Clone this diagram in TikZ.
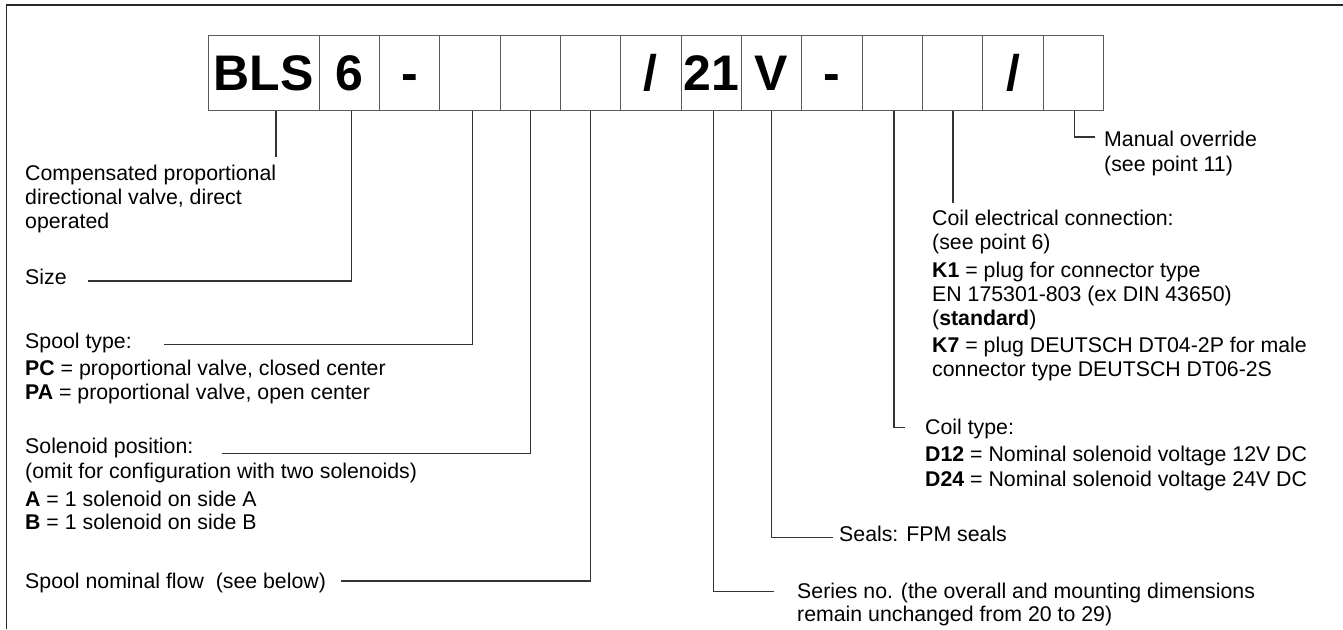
\documentclass[tikz,border=0pt]{standalone}
\usepackage{fontspec}
\setmainfont{Liberation Sans}
\begin{document}
\begin{tikzpicture}[x=1pt,y=-1pt,
  cell/.style={draw=black!65, line width=1pt, inner sep=0pt, minimum height=75pt,
    text height=35.8pt, text depth=0pt, font=\fontsize{50}{50}\selectfont\bfseries},
  lbl/.style={anchor=base west, inner sep=0pt, font=\fontsize{21.3}{24}\selectfont},
  leader/.style={draw=black!80, line width=1.1pt},
  frameline/.style={draw=black!85, line width=1.6pt}]
\useasboundingbox (0,0) rectangle (1343,629);
% frame
\coordinate (fTR) at (1343,5);
\coordinate (fTL) at (6.5,5);
\coordinate (fBL) at (6.5,629);
\draw[frameline] (fTR) -- (fTL) -- (fBL);
% code boxes
\node[cell, minimum width=111pt] (bls) at (263.5,72.5) {BLS};
\foreach \t [count=\i] in {6,-,{},{},{},/,21,V,-,{},{},/,{}}
  \node[cell, minimum width=60.35pt] (c\i) at ({319+60.35*(\i-0.5)},72.5) {\t};
% left descriptions
\node[lbl] (d1a) at (25,180) {Compensated proportional};
\node[lbl] (d1b) at (25,204) {directional valve, direct};
\node[lbl] (d1c) at (25,228) {operated};
\node[lbl] (d2) at (25,284) {Size};
\node[lbl] (d3) at (25,348) {Spool type:};
\node[lbl] (d3a) at (25,375) {\textbf{PC} = proportional valve, closed center};
\node[lbl] (d3b) at (25,399) {\textbf{PA} = proportional valve, open center};
\node[lbl] (d4) at (25,453) {Solenoid position:};
\node[lbl] (d4a) at (25,478) {(omit for configuration with two solenoids)};
\node[lbl] (d4b) at (25,506) {\textbf{A} = 1 solenoid on side A};
\node[lbl] (d4c) at (25,529) {\textbf{B} = 1 solenoid on side B};
\node[lbl] (d5) at (25,588) {Spool nominal flow~ (see below)};
% right descriptions
\node[lbl] (m1) at (1104,146) {Manual override};
\node[lbl] (m2) at (1104,171.5) {(see point 11)};
\node[lbl] (e1) at (932,225) {Coil electrical connection:};
\node[lbl] (e2) at (932,249.3) {(see point 6)};
\node[lbl] (e3) at (932,277.7) {\textbf{K1} = plug for connector type};
\node[lbl] (e4) at (932,301.7) {EN 175301-803 (ex DIN 43650)};
\node[lbl] (e5) at (932,325) {(\textbf{standard})};
\node[lbl] (e6) at (932,352.7) {\textbf{K7} = plug DEUTSCH DT04-2P for male};
\node[lbl] (e7) at (932,376.7) {connector type DEUTSCH DT06-2S};
\node[lbl] (t1) at (925,434.3) {Coil type:};
\node[lbl] (t2) at (925,461.7) {\textbf{D12} = Nominal solenoid voltage 12V DC};
\node[lbl] (t3) at (925,486) {\textbf{D24} = Nominal solenoid voltage 24V DC};
\node[lbl] (s1) at (839,541) {Seals: FPM seals};
\node[lbl] (n1) at (797,598.7) {Series no. (the overall and mounting dimensions};
\node[lbl] (n2) at (797,621) {remain unchanged from 20 to 29)};
% leader lines
\coordinate (kA) at (276,157);
\draw[leader] (bls.south -| kA) -- (kA);
\coordinate (kB) at (351.3,281); \coordinate (eB) at (88,281);
\draw[leader] (c1.south -| kB) -- (kB) -- (eB);
\coordinate (kC) at (472.3,344.3); \coordinate (eC) at (164,344.3);
\draw[leader] (c3.south -| kC) -- (kC) -- (eC);
\coordinate (kD) at (530.4,453.3); \coordinate (eD) at (222,453.3);
\draw[leader] (c4.south -| kD) -- (kD) -- (eD);
\coordinate (kE) at (590.2,581); \coordinate (eE) at (340.6,581);
\draw[leader] (c5.south -| kE) -- (kE) -- (eE);
\coordinate (kF) at (713.5,591.7); \coordinate (eF) at (774.3,591.7);
\draw[leader] (c7.south -| kF) -- (kF) -- (eF);
\coordinate (kG) at (771.5,537.3); \coordinate (eG) at (832.5,537.3);
\draw[leader] (c8.south -| kG) -- (kG) -- (eG);
\coordinate (kH) at (894,427.5); \coordinate (eH) at (905,427.5);
\draw[leader] (c10.south -| kH) -- (kH) -- (eH);
\coordinate (kI) at (953,203.3);
\draw[leader] (c11.south -| kI) -- (kI);
\coordinate (kJ) at (1074.5,137); \coordinate (eJ) at (1095,137);
\draw[leader] (c13.south -| kJ) -- (kJ) -- (eJ);
\end{tikzpicture}
\end{document}
